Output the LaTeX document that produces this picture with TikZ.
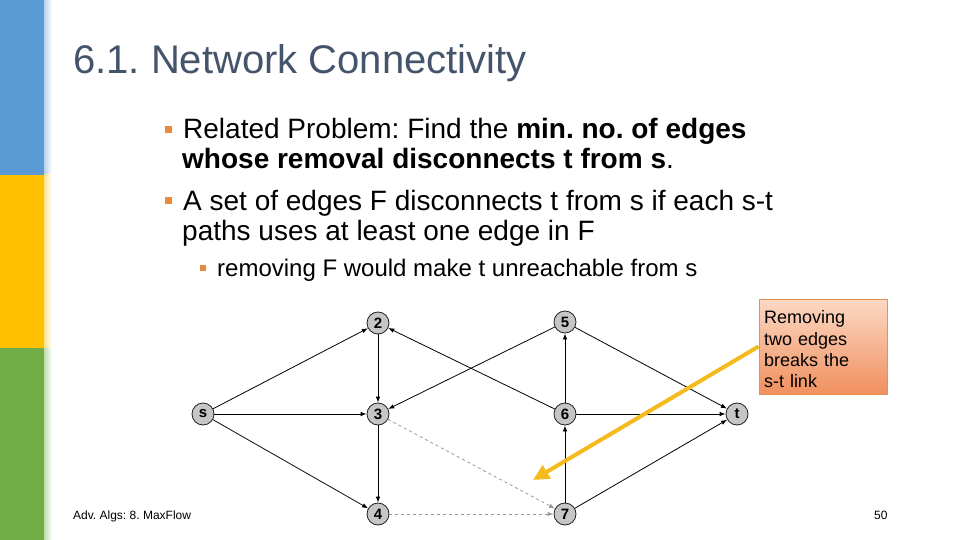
\documentclass[tikz,border=0pt]{standalone}
\usepackage{fontspec}
\setmainfont{Liberation Sans}
\usetikzlibrary{arrows.meta}
\frenchspacing

\definecolor{barblue}{HTML}{5B9BD5}
\definecolor{baryellow}{HTML}{FFC000}
\definecolor{bargreen}{HTML}{70AD47}
\definecolor{titlegray}{HTML}{44546A}
\definecolor{bulletorange}{HTML}{E88A3C}
\definecolor{noteborder}{HTML}{E9914E}
\definecolor{notetop}{HTML}{FCD8C4}
\definecolor{notebottom}{HTML}{F0905F}
\definecolor{pointer}{HTML}{F4BA1E}

\tikzset{
  vert/.style={circle, draw=gray!25!black, fill=gray!45, line width=0.8pt, minimum size=22pt, inner sep=0pt, font=\fontsize{15}{15}\selectfont\bfseries},
  edge/.style={-{Latex[length=6pt,width=4.5pt]}, line width=0.8pt},
  cutedge/.style={edge, gray!80, dashed},
  txt/.style={anchor=base west, inner sep=0pt},
  callout/.style={draw=noteborder, line width=1pt, top color=notetop, bottom color=notebottom, minimum width=128pt, minimum height=95pt, text width=118pt, align=left, inner sep=0pt, font=\fontsize{18}{21.3}\selectfont}
}

\begin{document}
\begin{tikzpicture}[x=1pt, y=-1pt]
  \useasboundingbox (0,0) rectangle (960,540);
  \fill[white] (0,0) rectangle (960,540);

  % Farbleiste links
  \fill[barblue] (0,0) rectangle (44,175);
  \fill[baryellow] (0,175) rectangle (44,348);
  \fill[bargreen] (0,348) rectangle (44,540);
  \shade[left color=barblue!45, right color=white] (44,0) rectangle (52,175);
  \shade[left color=baryellow!45, right color=white] (44,175) rectangle (52,348);
  \shade[left color=bargreen!45, right color=white] (44,348) rectangle (52,540);

  % Titel und Aufzaehlung
  \node[txt, text=titlegray, font=\fontsize{40}{48}\selectfont] (title) at (73,74) {6.1. Network Connectivity};
  \fill[bulletorange] (165,126) rectangle +(7,7);
  \node[txt, font=\fontsize{28}{30}\selectfont] (b1a) at (183,139) {Related Problem: Find the \textbf{min. no. of edges}};
  \node[txt, font=\fontsize{28}{30}\selectfont] (b1b) at (182,169) {\textbf{whose removal disconnects t from s}.};
  \fill[bulletorange] (165,197) rectangle +(7,7);
  \node[txt, font=\fontsize{28}{30}\selectfont] (b2a) at (183,210) {A set of edges F disconnects t from s if each s-t};
  \node[txt, font=\fontsize{28}{30}\selectfont] (b2b) at (182,240) {paths uses at least one edge in F};
  \fill[bulletorange] (200,265) rectangle +(5.5,5.5);
  \node[txt, font=\fontsize{24}{26}\selectfont] (b3) at (217,276) {removing F would make t unreachable from s};

  % Graph
  \node[vert] (s) at (203,414) {s};
  \node[vert] (n2) at (378,323) {2};
  \node[vert] (n3) at (378,414) {3};
  \node[vert] (n4) at (378,514) {4};
  \node[vert] (n5) at (565,322) {5};
  \node[vert] (n6) at (565,414) {6};
  \node[vert] (n7) at (565,514) {7};
  \node[vert] (t) at (737,414) {t};

  \draw[edge] (s) -- (n2);
  \draw[edge] (s) -- (n3);
  \draw[edge] (s) -- (n4);
  \draw[edge] (n2) -- (n3);
  \draw[edge] (n3) -- (n4);
  \draw[edge] (n5) -- (n3);
  \draw[edge] (n6) -- (n2);
  \draw[edge] (n6) -- (n5);
  \draw[edge] (n7) -- (n6);
  \draw[edge] (n6) -- (t);
  \draw[edge] (n5) -- (t);
  \draw[edge] (n7) -- (t);
  \draw[cutedge] (n3) -- (n7);
  \draw[cutedge] (n4) -- (n7);

  % Hinweis
  \node[callout] (note) at (823,346.5) {\rule{0pt}{19pt}Removing\\two edges\\breaks the\\s-t link};
  \coordinate (tip) at (533,480);
  \draw[pointer, line width=4pt, -{Triangle[length=16pt,width=15pt]}] (note.west) -- (tip);

  % Fusszeile
  \node[txt, font=\fontsize{12}{14}\selectfont] (foot) at (73,519) {Adv. Algs: 8. MaxFlow};
  \node[txt, font=\fontsize{12}{14}\selectfont] (page) at (874,519) {50};
\end{tikzpicture}
\end{document}
